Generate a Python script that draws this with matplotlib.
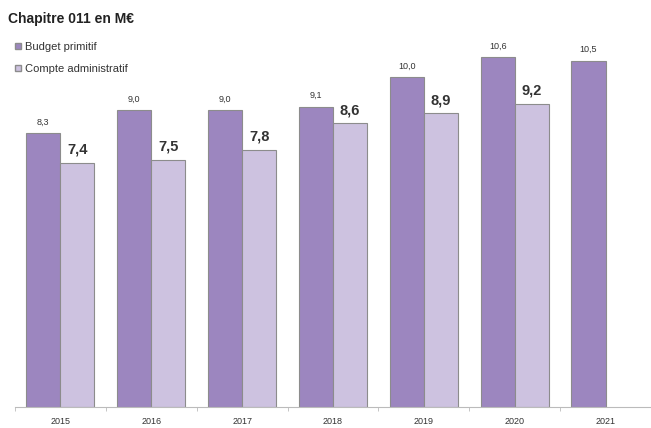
import numpy as np
import matplotlib.pyplot as plt
from matplotlib.lines import Line2D

years = ["2015", "2016", "2017", "2018", "2019", "2020", "2021"]
budget_primitif = [8.3, 9.0, 9.0, 9.1, 10.0, 10.6, 10.5]
compte_admin = [7.4, 7.5, 7.8, 8.6, 8.9, 9.2, None]

dark = "#9c86bf"
light = "#cdc2e0"
edge = "#8c8c8c"

plt.rcParams['font.family'] = ['Liberation Sans', 'DejaVu Sans']

fig = plt.figure(figsize=(6.51, 4.28), dpi=100)
ax = fig.add_axes([0.023, 0.049, 0.977, 0.925])

x = np.arange(len(years))
w = 0.375

for i in x:
    ax.bar(i - w / 2, budget_primitif[i], w, color=dark, edgecolor=edge, linewidth=0.8)
    ax.text(i - w / 2, budget_primitif[i] + 0.2, f"{budget_primitif[i]:.1f}".replace(".", ","),
            ha="center", va="bottom", fontsize=6.5, color="#333333")
    if compte_admin[i] is not None:
        ax.bar(i + w / 2, compte_admin[i], w, color=light, edgecolor=edge, linewidth=0.8)
        ax.text(i + w / 2, compte_admin[i] + 0.18, f"{compte_admin[i]:.1f}".replace(".", ","),
                ha="center", va="bottom", fontsize=10.5, fontweight="bold", color="#333333")

ax.set_xlim(-0.5, len(years) - 0.5)
ax.set_ylim(0, 12)
ax.set_xticks(x, years, fontsize=6.5, color="#333333")
ax.tick_params(axis="x", length=0, pad=7)
ax.set_xticks(np.arange(-0.5, len(years), 1), minor=True)
ax.tick_params(axis="x", which="minor", length=3, color="#bbbbbb")
ax.set_yticks([])
for s in ["top", "right", "left"]:
    ax.spines[s].set_visible(False)
ax.spines["bottom"].set_color("#bbbbbb")

fig.text(0.012, 0.955, "Chapitre 011 en M€", fontsize=10, fontweight="bold", color="#222222", va="center")
handles = [Line2D([], [], marker="s", linestyle="", markersize=5, markerfacecolor=dark, markeredgecolor=edge),
           Line2D([], [], marker="s", linestyle="", markersize=5, markerfacecolor=light, markeredgecolor=edge)]
fig.legend(handles, ["Budget primitif", "Compte administratif"], loc="upper left",
           bbox_to_anchor=(0.005, 0.925), frameon=False, fontsize=8, handlelength=0.8,
           handletextpad=0.3, labelspacing=1.1, labelcolor="#333333")

fig.savefig("out.png", dpi=100)
